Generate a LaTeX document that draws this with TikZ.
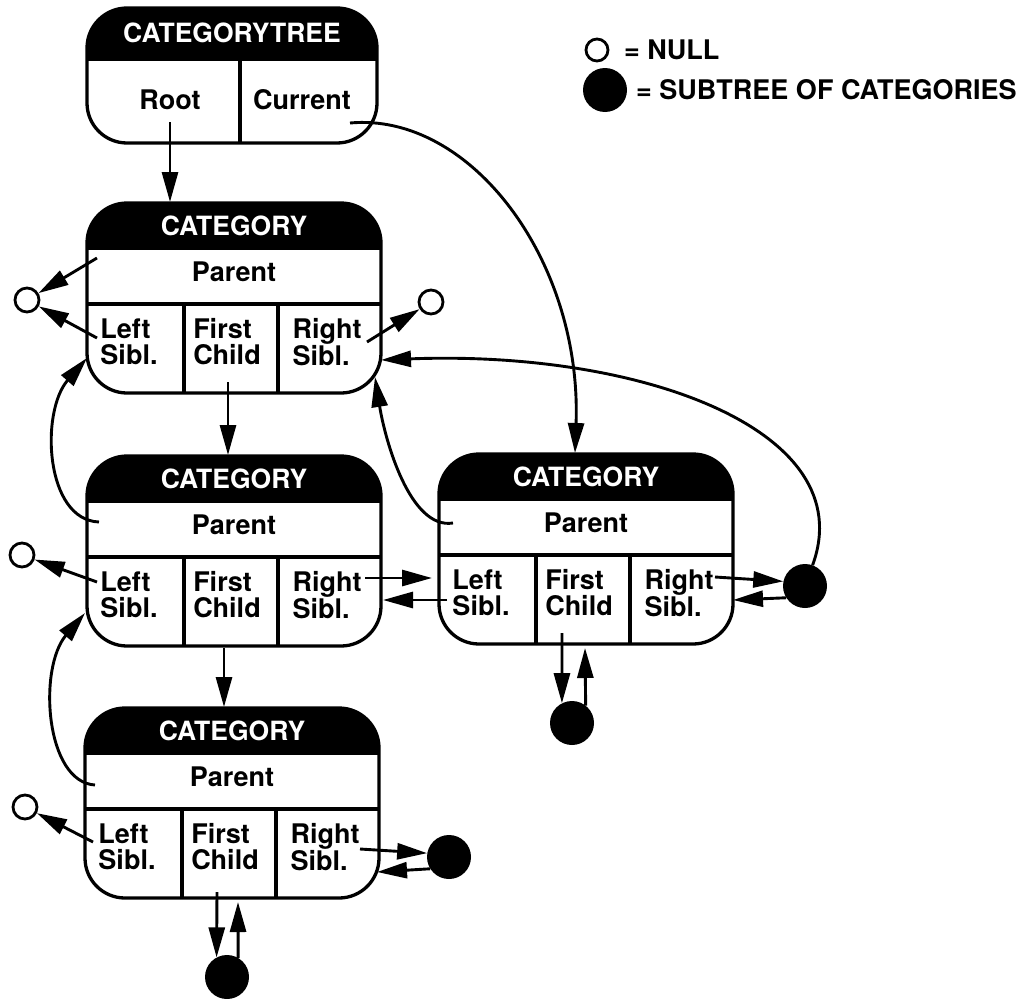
\documentclass[tikz,border=0pt]{standalone}
\usepackage{fontspec}
\setmainfont{TeX Gyre Heros}
\usetikzlibrary{arrows.meta,calc}

\tikzset{
  boxline/.style={line width=3.3pt},
  link/.style={line width=2.9pt, -{Triangle[length=30pt,width=16pt]}},
  nullpt/.style={circle, draw, line width=2.8pt, fill=white, minimum size=24pt, inner sep=0pt},
  subtree/.style={circle, fill=black, minimum size=44pt, inner sep=0pt},
  headtxt/.style={text=white, inner sep=0pt, font=\bfseries\fontsize{26.5}{28}\selectfont},
  celltxt/.style={inner sep=0pt, align=left, font=\bfseries\fontsize{27}{26}\selectfont},
  legtxt/.style={inner sep=0pt, anchor=west, font=\bfseries\fontsize{27}{29}\selectfont},
}

% One CATEGORY record: name, left x, top y (y grows downwards)
\newcommand\catbox[3]{%
  \begin{scope}[shift={(#2,#3)}]
    \coordinate (#1) at (0,0);
    \begin{scope}
      \clip[rounded corners=40pt] (0,0) rectangle (294,190);
      \fill (0,0) rectangle (294,45);
    \end{scope}
    \draw[boxline, rounded corners=40pt] (0,0) rectangle (294,190);
    \draw[boxline] (0,45) -- (294,45) (0,101) -- (294,101)
                   (97,101) -- (97,190) (191,101) -- (191,190);
    \node[headtxt] (#1-head) at (147,23) {CATEGORY};
    \node[celltxt] (#1-par) at (147,69) {Parent};
    \node[celltxt] (#1-ls) at (42,139) {Left\\Sibl.};
    \node[celltxt] (#1-fc) at (140,139) {First\\Child};
    \node[celltxt] (#1-rs) at (240,139) {Right\\Sibl.};
  \end{scope}}

\begin{document}
\begin{tikzpicture}[x=1pt,y=-1pt]
  \useasboundingbox (0,0) rectangle (1019,998);

  % CATEGORYTREE record
  \begin{scope}[shift={(87,8)}]
    \coordinate (tree) at (0,0);
    \begin{scope}
      \clip[rounded corners=40pt] (0,0) rectangle (290,135);
      \fill (0,0) rectangle (290,51);
    \end{scope}
    \draw[boxline, rounded corners=40pt] (0,0) rectangle (290,135);
    \draw[boxline] (0,51) -- (290,51) (153,51) -- (153,135);
    \node[headtxt] (tree-head) at (145,25) {CATEGORYTREE};
    \node[celltxt] (tree-root) at (83,92) {Root};
    \node[celltxt] (tree-cur) at (215,92) {Current};
  \end{scope}

  % CATEGORY records
  \catbox{b1}{87}{203}
  \catbox{b2}{87}{456}
  \catbox{b3}{439}{454}
  \catbox{b4}{85}{708}

  % NULL pointers and subtrees
  \node[nullpt] (n1) at (27,300) {};
  \node[nullpt] (n2) at (431,302) {};
  \node[nullpt] (n3) at (22,555) {};
  \node[nullpt] (n4) at (25,807) {};
  \node[subtree] (s1) at (805,586) {};
  \node[subtree] (s2) at (572,723) {};
  \node[subtree] (s3) at (449,857) {};
  \node[subtree] (s4) at (227,977) {};

  % legend
  \node[nullpt, minimum size=22pt] (lnull) at (597,50) {};
  \node[legtxt] (lnulltxt) at (624,50) {= NULL};
  \node[subtree] (lsub) at (605,90) {};
  \node[legtxt] (lsubtxt) at (636,90) {= SUBTREE OF CATEGORIES};

  % tree pointers
  \draw[link] ($(tree)+(83,114)$) -- ($(b1)+(83,-1)$);
  \draw[link] ($(tree)+(263,115)$) .. controls (470,112) and (582,260) .. ($(b3)+(136,-1)$);

  % first record
  \draw[link] ($(b1)+(10,55)$) -- (n1);
  \draw[link] ($(b1)+(10,135)$) -- (n1);
  \draw[link] ($(b1)+(280,139)$) -- (n2);
  \draw[link] ($(b1)+(141,179)$) -- ($(b2)+(141,-1)$);

  % parent pointers
  \draw[link] ($(b2)+(12,66)$) .. controls (45,520) and (40,412) .. ($(b1)+(0,155)$);
  \draw[link] ($(b3)+(14,69)$) .. controls (410,530) and (385,440) .. ($(b1)+(288,174)$);
  \draw[link] ($(b4)+(10,77)$) .. controls (45,782) and (38,668) .. ($(b2)+(-2,157)$);

  % subtree back to first record
  \draw[link] (s1.70) .. controls (862,430) and (640,350) .. ($(b1)+(294,157)$);

  % siblings of the second level
  \draw[link] ($(b2)+(278,122)$) -- ($(b3)+(-7,124)$);
  \draw[link] ($(b3)+(8,146)$) -- ($(b2)+(296,144)$);
  \draw[link] ($(b2)+(10,126)$) -- (n3);
  \draw[link] ($(b3)+(276,123)$) -- (s1.168);
  \draw[link] (s1.212) -- ($(b3)+(294,146)$);
  \draw[link] ($(b3)+(123,179)$) -- (s2.117);
  \draw[link] (s2.52) -- ($(b3)+(146,194)$);

  % third level
  \draw[link] ($(b2)+(137,192)$) -- ($(b4)+(139,-1)$);
  \draw[link] ($(b4)+(8,134)$) -- (n4);
  \draw[link] ($(b4)+(275,141)$) -- (s3.170);
  \draw[link] (s3.212) -- ($(b4)+(292,164)$);
  \draw[link] ($(b4)+(132,184)$) -- (s4.118);
  \draw[link] (s4.60) -- ($(b4)+(153,194)$);
\end{tikzpicture}
\end{document}
